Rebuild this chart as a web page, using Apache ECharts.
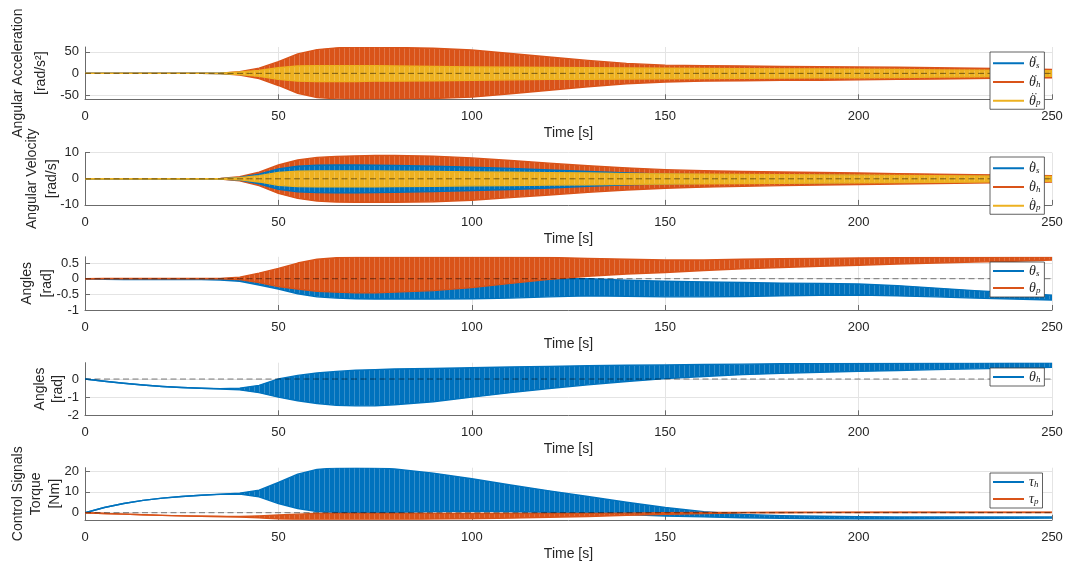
<!DOCTYPE html>
<html>
<head>
<meta charset="utf-8">
<script src="https://cdn.jsdelivr.net/npm/echarts@6/dist/echarts.min.js"></script>
<style>
html, body { margin: 0; padding: 0; background: #fff; }
#chart { width: 1070px; height: 565px; }
</style>
</head>
<body>
<div id="chart"></div>
<script>
// Sample times [s] for the envelope tables below
const T = [0, 5, 10, 15, 20, 25, 30, 35, 40, 45, 50, 55, 60, 65, 70, 75, 80,
  90, 100, 110, 120, 130, 140, 150, 160, 170, 180, 190, 200, 210, 220, 230, 240, 250];

// Angular acceleration envelopes [rad/s^2] (upper / lower)
const accS_up = [0, 0, 0, 0, 0, 0, 0, 0.2, 2, 5, 10, 13, 14, 14, 14, 14, 13,
  12, 11.5, 11, 10.5, 10, 9.5, 9, 8.5, 8, 7.5, 7, 6.5, 6, 5.5, 5, 4.5, 4];
const accS_lo = [0, 0, 0, 0, 0, 0, 0, -0.2, -2, -5, -10, -13, -14, -14, -14, -14, -13,
  -12, -11.5, -11, -10.5, -10, -9.5, -9, -8.5, -8, -7.5, -7, -6.5, -6, -5.5, -5, -4.5, -4];
const accH_up = [0, 0, 0, 0, 0, 0, 0, 0.5, 4, 12, 27, 45, 55, 59, 61, 61, 60,
  58, 54, 46, 38, 30, 23, 19, 18, 17, 16, 15.5, 15, 14, 13, 12, 11, 9];
const accH_lo = [0, 0, 0, 0, 0, 0, 0, -0.5, -4, -12, -28, -46, -56, -59, -60, -60, -60,
  -58, -55, -47, -39, -31, -24, -20, -18, -17, -16, -16, -15, -14, -13, -12, -11, -10];
const accP_up = [0, 0, 0, 0, 0, 0, 0, 0.3, 3, 7, 13, 17, 18, 18, 18, 18, 17,
  16, 15, 14, 13.5, 13, 12.5, 12, 11.5, 11, 10.5, 10, 9.5, 9, 8, 7.5, 7, 6];
const accP_lo = [0, 0, 0, 0, 0, 0, 0, -0.3, -3, -7, -14, -18, -19, -19, -19, -18, -18,
  -17, -16, -15, -14, -13.5, -13, -12.5, -12, -11.5, -11, -10.5, -10, -9.5, -8.5, -8, -7, -6.5];

// Angular velocity envelopes [rad/s]
const velS_up = [0, 0, 0, 0, 0, 0, 0, 0.05, 0.5, 1.8, 3.8, 4.8, 5.2, 5.3, 5.3, 5.2, 5.1,
  4.8, 4.4, 4.0, 3.4, 2.8, 2.2, 1.8, 1.6, 1.5, 1.4, 1.3, 1.2, 1.1, 1.0, 0.9, 0.8, 0.7];
const velS_lo = [0, 0, 0, 0, 0, 0, 0, -0.05, -0.5, -1.9, -4.0, -5.0, -5.3, -5.4, -5.4, -5.3, -5.2,
  -4.9, -4.5, -4.1, -3.5, -2.9, -2.3, -1.9, -1.7, -1.6, -1.5, -1.4, -1.3, -1.2, -1.1, -1.0, -0.9, -0.8];
const velH_up = [0, 0, 0, 0, 0, 0, 0, 0.1, 0.8, 2.5, 5.3, 7.2, 8.2, 8.6, 8.8, 8.9, 8.9,
  8.7, 8.0, 7.0, 6.0, 5.0, 4.2, 3.5, 3.1, 2.8, 2.6, 2.4, 2.2, 2.0, 1.8, 1.6, 1.4, 1.2];
const velH_lo = [0, 0, 0, 0, 0, 0, 0, -0.1, -0.8, -2.6, -5.6, -7.5, -8.5, -8.9, -9.0, -9.0, -9.0,
  -8.8, -8.2, -7.2, -6.2, -5.2, -4.3, -3.6, -3.2, -2.9, -2.6, -2.4, -2.2, -2.0, -1.8, -1.6, -1.4, -1.2];
const velP_up = [0, 0, 0, 0, 0, 0, 0, 0.05, 0.4, 1.2, 2.4, 2.9, 3.0, 3.0, 3.0, 3.0, 2.9,
  2.8, 2.6, 2.5, 2.3, 2.2, 2.0, 1.9, 1.8, 1.7, 1.6, 1.5, 1.4, 1.3, 1.2, 1.1, 1.0, 0.9];
const velP_lo = [0, 0, 0, 0, 0, 0, 0, -0.05, -0.4, -1.2, -2.5, -3.0, -3.1, -3.1, -3.1, -3.1, -3.0,
  -2.9, -2.7, -2.6, -2.4, -2.3, -2.1, -2.0, -1.9, -1.8, -1.7, -1.6, -1.5, -1.4, -1.3, -1.2, -1.1, -1.0];

// Angle envelopes [rad]
const angS_up = [0, 0, 0, 0, 0, 0, 0, 0, 0.02, 0.1, 0.2, 0.2, 0.15, 0.1, 0.05, 0, 0,
  0, 0, 0, 0, 0, -0.05, -0.08, -0.1, -0.12, -0.14, -0.15, -0.17, -0.22, -0.3, -0.38, -0.45, -0.53];
const angS_lo = [0, -0.02, -0.03, -0.03, -0.03, -0.03, -0.03, -0.04, -0.08, -0.2, -0.33, -0.48, -0.58, -0.62, -0.64, -0.65, -0.65,
  -0.65, -0.64, -0.62, -0.58, -0.55, -0.56, -0.58, -0.58, -0.57, -0.55, -0.53, -0.52, -0.55, -0.58, -0.62, -0.65, -0.68];
const angP_up = [0, 0.01, 0.01, 0.01, 0.01, 0.01, 0.01, 0.01, 0.05, 0.18, 0.33, 0.5, 0.62, 0.67, 0.69, 0.69, 0.69,
  0.69, 0.69, 0.69, 0.68, 0.65, 0.62, 0.6, 0.6, 0.62, 0.64, 0.65, 0.66, 0.67, 0.68, 0.68, 0.69, 0.69];
const angP_lo = [0, 0, 0, 0, 0, 0, 0, 0, -0.03, -0.12, -0.25, -0.33, -0.4, -0.43, -0.45, -0.45, -0.43,
  -0.38, -0.28, -0.15, -0.02, 0.08, 0.15, 0.2, 0.26, 0.32, 0.36, 0.4, 0.43, 0.47, 0.5, 0.53, 0.56, 0.6];
const angH_up = [0, -0.12, -0.23, -0.33, -0.41, -0.47, -0.51, -0.53, -0.5, -0.35, 0.0, 0.2, 0.33, 0.42, 0.48, 0.52, 0.55,
  0.58, 0.62, 0.66, 0.7, 0.73, 0.76, 0.78, 0.8, 0.82, 0.84, 0.85, 0.86, 0.87, 0.88, 0.89, 0.9, 0.9];
const angH_lo = [0, -0.12, -0.23, -0.33, -0.41, -0.47, -0.51, -0.55, -0.6, -0.75, -1.0, -1.2, -1.35, -1.45, -1.48, -1.47, -1.42,
  -1.25, -1.0, -0.75, -0.52, -0.32, -0.14, 0.02, 0.14, 0.24, 0.31, 0.37, 0.42, 0.47, 0.52, 0.56, 0.6, 0.64];

// Control torque envelopes [Nm]
const tauH_up = [0, 2.5, 4.4, 5.9, 7.0, 7.8, 8.4, 8.9, 9.4, 10.8, 14.5, 18.5, 20.8, 21.5, 21.6, 21.5, 21.0,
  19.0, 16.3, 13.3, 10.5, 7.8, 5.0, 2.5, 0.5, -0.8, -1.4, -1.7, -1.9, -2.0, -2.0, -2.0, -2.0, -2.0];
const tauH_lo = [0, 2.5, 4.4, 5.9, 7.0, 7.8, 8.4, 8.8, 9.0, 7.6, 4.4, 2.0, 0.6, 0.2, 0.1, 0.1, 0.2,
  0.5, 0.8, 0.6, 0.2, -0.3, -0.9, -1.6, -2.0, -2.4, -2.7, -2.9, -3.0, -3.0, -2.9, -2.8, -2.7, -2.6];
const tauP_up = [0, -0.35, -0.7, -1.0, -1.3, -1.5, -1.7, -1.85, -1.8, -1.5, -1.1, -0.7, -0.4, -0.3, -0.3, -0.3, -0.3,
  -0.3, -0.35, -0.4, -0.4, -0.3, -0.2, 0.0, 0.1, 0.15, 0.2, 0.2, 0.2, 0.2, 0.2, 0.2, 0.2, 0.2];
const tauP_lo = [0, -0.35, -0.7, -1.0, -1.3, -1.5, -1.7, -1.85, -2.1, -2.5, -3.0, -3.2, -3.3, -3.3, -3.3, -3.3, -3.3,
  -3.1, -2.9, -2.6, -2.2, -1.8, -1.3, -0.8, -0.4, -0.1, 0.0, 0.05, 0.1, 0.1, 0.1, 0.1, 0.1, 0.1];

// Axis ticks and titles
const xTicks = [0, 50, 100, 150, 200, 250];
const xName = 'Time [s]';
const yNames = ['Angular Acceleration\n[rad/s²]', 'Angular Velocity\n[rad/s]', 'Angles\n[rad]', 'Angles\n[rad]', 'Control Signals\nTorque\n[Nm]'];

const COLOR = { s: '#0072BD', h: '#D95319', p: '#EDB120' };
const TXT = '#262626';
const AXC = '#6b6b6b';
const GRIDC = '#e4e4e4';
const FONT = '"Liberation Sans", Arial, Helvetica, sans-serif';
const SERIF = '"Liberation Serif", "DejaVu Serif", serif';

// Legend texts: derivative dots on a short line above the symbol and its subscript
const LEGEND_TEXT = {
  acc_s: '{d|··}\n{v|θ}{b|s}', acc_h: '{d|··}\n{v|θ}{b|h}', acc_p: '{d|··}\n{v|θ}{b|p}',
  vel_s: '{d|·}\n{v|θ}{b|s}', vel_h: '{d|·}\n{v|θ}{b|h}', vel_p: '{d|·}\n{v|θ}{b|p}',
  ang_s: '{v|θ}{b|s}', ang_p: '{v|θ}{b|p}', ang_h: '{v|θ}{b|h}',
  tau_h: '{v|τ}{b|h}', tau_p: '{v|τ}{b|p}'
};

// Fine vertical striping that mimics a densely oscillating trace
function stripeFill(hex) {
  const c = document.createElement('canvas');
  c.width = 5; c.height = 4;
  const g = c.getContext('2d');
  g.fillStyle = hex; g.fillRect(0, 0, 5, 4);
  g.fillStyle = 'rgba(255,255,255,0.2)'; g.fillRect(4, 0, 1, 4);
  return { image: c, repeat: 'repeat' };
}
const FILL = { s: stripeFill(COLOR.s), h: stripeFill(COLOR.h), p: stripeFill(COLOR.p) };

const panels = [
  { top: 47, height: 52.3, min: -60, max: 61, step: 50, hideMin: true, hideMax: true, gap: 32, lh: 23,
    draw: [['acc_h', 'h', accH_up, accH_lo], ['acc_s', 's', accS_up, accS_lo], ['acc_p', 'p', accP_up, accP_lo]],
    legend: ['acc_s', 'acc_h', 'acc_p'], legendTop: 52, dotted: true },
  { top: 152.7, height: 52.2, min: -10, max: 10, step: 10, hideMin: false, hideMax: false, gap: 23, lh: 20,
    draw: [['vel_h', 'h', velH_up, velH_lo], ['vel_s', 's', velS_up, velS_lo], ['vel_p', 'p', velP_up, velP_lo]],
    legend: ['vel_s', 'vel_h', 'vel_p'], legendTop: 157, dotted: true },
  { top: 256.8, height: 53.2, min: -1, max: 0.7, step: 0.5, hideMin: false, hideMax: true, gap: 28, lh: 20,
    draw: [['ang_s', 's', angS_up, angS_lo], ['ang_p', 'h', angP_up, angP_lo]],
    legend: ['ang_s', 'ang_p'], legendTop: 262, dotted: false },
  { top: 362.7, height: 52.6, min: -2, max: 0.9, step: 1, hideMin: false, hideMax: true, gap: 18, lh: 18,
    draw: [['ang_h', 's', angH_up, angH_lo]],
    legend: ['ang_h'], legendTop: 368, dotted: false },
  { top: 467.7, height: 52.1, min: -3.4, max: 21.6, step: 10, hideMin: true, hideMax: true, gap: 21, lh: 18.5,
    draw: [['tau_h', 's', tauH_up, tauH_lo], ['tau_p', 'h', tauP_up, tauP_lo]],
    legend: ['tau_h', 'tau_p'], legendTop: 473, dotted: false }
];

// A trace drawn as the region between its lower and upper envelope, plus both edges
function bandSeries(i, name, c, up, lo) {
  return {
    type: 'custom', name, xAxisIndex: i, yAxisIndex: i, silent: true, animation: false,
    color: COLOR[c], itemStyle: { color: COLOR[c] }, clip: true,
    data: T.map((t, k) => [t, up[k], lo[k]]),
    encode: { x: 0, y: [1, 2] },
    renderItem: (params, api) => {
      if (params.dataIndex !== 0) return null;
      const upper = T.map((t, k) => api.coord([t, up[k]]));
      const lower = T.map((t, k) => api.coord([t, lo[k]]));
      const outline = upper.concat(lower.slice().reverse());
      const edge = { stroke: COLOR[c], lineWidth: 1.4, fill: null, lineJoin: 'round' };
      return {
        type: 'group',
        children: [
          { type: 'polygon', shape: { points: outline }, style: { fill: FILL[c], stroke: null } },
          { type: 'polyline', shape: { points: upper }, style: Object.assign({}, edge) },
          { type: 'polyline', shape: { points: lower }, style: Object.assign({}, edge) }
        ]
      };
    }
  };
}

const grid = [], xAxis = [], yAxis = [], series = [], legend = [];

panels.forEach((p, i) => {
  grid.push({ left: 85, width: 967, top: p.top, height: p.height, outerBoundsMode: 'none', containLabel: false });

  xAxis.push({
    type: 'value', gridIndex: i, min: xTicks[0], max: xTicks[xTicks.length - 1],
    interval: xTicks[1] - xTicks[0],
    axisLine: { onZero: false, lineStyle: { color: AXC, width: 1 } },
    axisTick: { inside: true, length: 5, lineStyle: { color: AXC } },
    axisLabel: { color: TXT, fontSize: 13, margin: 11, fontFamily: FONT },
    splitLine: { show: true, lineStyle: { color: GRIDC, width: 1 } },
    name: xName, nameLocation: 'middle', nameGap: 27, nameMoveOverlap: false,
    nameTextStyle: { color: TXT, fontSize: 14, fontFamily: FONT }
  });

  const yAx = {
    type: 'value', gridIndex: i, min: p.min, max: p.max,
    axisLine: { show: true, onZero: false, lineStyle: { color: AXC, width: 1 } },
    axisTick: { show: true, inside: true, length: 5, lineStyle: { color: AXC } },
    axisLabel: { color: TXT, fontSize: 13, margin: 6, fontFamily: FONT },
    splitLine: { show: true, showMinLine: !p.hideMin, showMaxLine: !p.hideMax, lineStyle: { color: GRIDC, width: 1 } },
    name: yNames[i], nameLocation: 'middle', nameRotate: 90, nameGap: p.gap, nameMoveOverlap: false,
    nameTextStyle: { color: TXT, fontSize: 14, fontFamily: FONT, lineHeight: p.lh, align: 'center' }
  };
  if (p.min % p.step === 0) {
    yAx.interval = p.step;
  } else {
    yAx.minInterval = p.step; yAx.maxInterval = p.step; yAx.splitNumber = 2;
  }
  if (p.hideMin) yAx.axisLabel.showMinLabel = false;
  if (p.hideMax) yAx.axisLabel.showMaxLabel = false;
  yAxis.push(yAx);

  p.draw.forEach(([name, c, up, lo]) => series.push(bandSeries(i, name, c, up, lo)));

  // Dashed zero reference
  series.push({
    type: 'line', xAxisIndex: i, yAxisIndex: i, symbol: 'none', silent: true, animation: false,
    data: [[xTicks[0], 0], [xTicks[xTicks.length - 1], 0]],
    lineStyle: { color: 'rgba(0,0,0,0.5)', width: 1, type: [6, 3.5] }, z: 5
  });

  legend.push({
    data: p.legend, orient: 'vertical', left: 990, top: p.legendTop,
    icon: 'rect', itemWidth: 31, itemHeight: 2, itemGap: p.dotted ? 0 : 3,
    padding: p.dotted ? [0, 4, 1, 3] : [2, 4, 2, 3],
    backgroundColor: '#fff', borderColor: '#3a3a3a', borderWidth: 0.8,
    selectedMode: false, z: 10,
    formatter: n => LEGEND_TEXT[n],
    textStyle: {
      rich: {
        d: { fontFamily: FONT, fontSize: 10, color: TXT, lineHeight: 1, padding: [0, 0, 0, 2] },
        v: { fontFamily: SERIF, fontStyle: 'italic', fontSize: 14, color: TXT, lineHeight: p.dotted ? 12.5 : 14 },
        b: { fontFamily: SERIF, fontStyle: 'italic', fontSize: 9, color: TXT, lineHeight: 9, verticalAlign: 'bottom' }
      }
    }
  });
});

const chart = echarts.init(document.getElementById('chart'), null, { renderer: 'canvas' });
chart.setOption({ backgroundColor: '#fff', animation: false, grid, xAxis, yAxis, series, legend });
</script>
</body>
</html>
